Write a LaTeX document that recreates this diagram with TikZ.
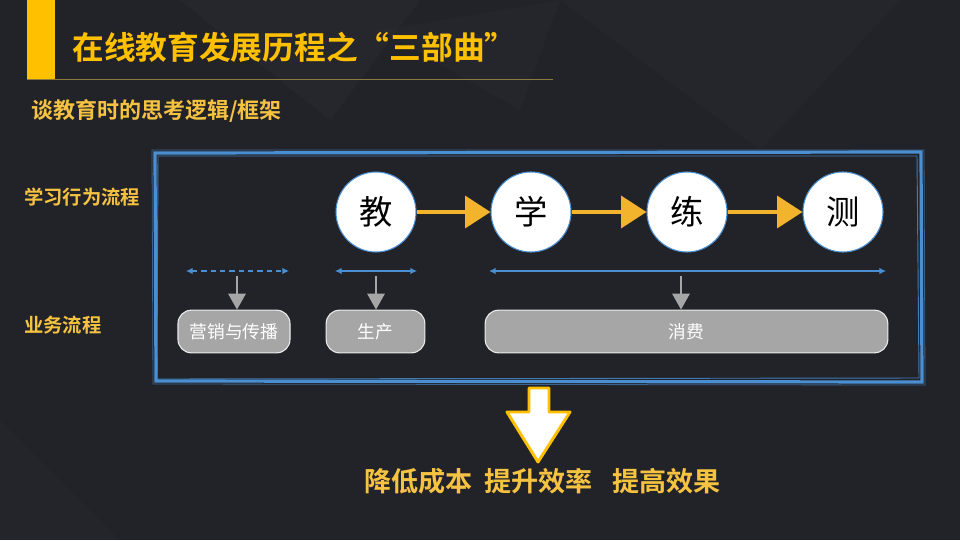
\documentclass[tikz,border=0pt]{standalone}
\usepackage{fontspec}
\newfontfamily\cjk{Noto Sans CJK SC}
\newfontfamily\cjkb{Noto Sans CJK SC Bold}
\usetikzlibrary{arrows.meta,shapes.geometric}
\definecolor{bg}{HTML}{222328}
\definecolor{bgl}{HTML}{2E3036}
\definecolor{gold}{HTML}{FFC000}
\definecolor{ytxt}{HTML}{F5C242}
\definecolor{yarr}{HTML}{F2B42C}
\definecolor{fblue}{HTML}{4A8FD2}
\definecolor{gbox}{HTML}{A6A6A6}
\definecolor{gline}{HTML}{8C7A3C}
\tikzset{
  x=0.75pt,y=-0.75pt,
  circ/.style={circle,draw=fblue,line width=0.8pt,fill=white,minimum size=60pt,inner sep=0pt,font=\cjk\fontsize{25}{25}\selectfont,text=black},
  gbx/.style={rounded corners=10pt,draw=white!85!gray,line width=0.8pt,fill=gbox,text=white,font=\cjk\fontsize{13.3}{13.3}\selectfont,minimum height=32pt},
  yarrow/.style={draw=yarr,line width=2.4pt,-{Triangle[length=19pt,width=24pt]}},
  barrow/.style={draw=fblue,line width=1.1pt,{Latex[length=5pt,width=5pt]}-{Latex[length=5pt,width=5pt]}},
  garrow/.style={draw=gbox,line width=1.6pt,-{Triangle[length=12pt,width=13pt]}},
  lbl/.style={text=ytxt,font=\cjkb\fontsize{14.5}{14.5}\selectfont,anchor=west}
}
\begin{document}
\begin{tikzpicture}
\useasboundingbox (0,0) rectangle (960,540);
\fill[bg] (0,0) rectangle (960,540);
% faint background polygons
\fill[bgl,opacity=0.35] (180,0) -- (420,0) -- (330,120) -- cycle;
\fill[bgl,opacity=0.3] (560,0) -- (900,0) -- (760,150) -- cycle;
\fill[bgl,opacity=0.25] (380,30) -- (560,0) -- (520,110) -- cycle;
\fill[bgl,opacity=0.2] (0,420) -- (120,540) -- (0,540) -- cycle;
% title
\fill[gold] (27,0) rectangle (55,80);
\draw[gline,line width=0.7pt] (27,79.5) -- (553,79.5);
\node[anchor=west,text=gold,font=\cjkb\fontsize{23.8}{23.8}\selectfont,inner sep=0pt] (title) at (72,47) {在线教育发展历程之“三部曲”};
\node[anchor=west,text=ytxt,font=\cjkb\fontsize{16.5}{16.5}\selectfont,inner sep=0pt] (sub) at (31,111) {谈教育时的思考逻辑/框架};
% left labels
\node[lbl,inner sep=0pt] (l1) at (24,197) {学习行为流程};
\node[lbl,inner sep=0pt] (l2) at (24,325) {业务流程};
% frame (sketchy)
\draw[fblue,line width=2.4pt] (155,153) -- (921,152) -- (922,382) -- (156,381) -- cycle;
\draw[fblue,line width=0.7pt,opacity=0.8] (158,156) -- (917,156) -- (919,378) -- (157,379) -- cycle;
\draw[fblue,line width=0.6pt,opacity=0.6] (152,150) -- (924,150) -- (925,385) -- (153,384) -- cycle;
% circles
\node[circ] (c1) at (376,212) {教};
\node[circ] (c2) at (531,212) {学};
\node[circ] (c3) at (687,212) {练};
\node[circ] (c4) at (843,212) {测};
\draw[yarrow] (c1.east) -- (c2.west);
\draw[yarrow] (c2.east) -- (c3.west);
\draw[yarrow] (c3.east) -- (c4.west);
% boxes
\node[gbx,minimum width=84pt] (b1) at (234,331.5) {营销与传播};
\node[gbx,minimum width=74pt] (b2) at (375.5,331.5) {生产};
\node[gbx,minimum width=302pt] (b3) at (686.5,331.5) {消费};
% blue ranges
\coordinate (r1a) at (186,271); \coordinate (r1b) at (289,271);
\coordinate (r2a) at (335,271); \coordinate (r2b) at (417,271);
\coordinate (r3a) at (489,271); \coordinate (r3b) at (886,271);
\draw[barrow,dash pattern=on 4pt off 3pt] (r1a) -- (r1b);
\draw[barrow] (r2a) -- (r2b);
\draw[barrow] (r3a) -- (r3b);
% gray arrows
\coordinate (g1) at (237,276); \coordinate (g2) at (376,276); \coordinate (g3) at (681,276);
\draw[garrow] (g1) -- (b1.north -| g1);
\draw[garrow] (g2) -- (b2.north -| g2);
\draw[garrow] (g3) -- (b3.north -| g3);
% big down arrow
\draw[gold,line width=2.2pt,fill=white,line join=round] (529,388) -- (549,388) -- (549,412) -- (570,412) -- (538,462) -- (507,412) -- (529,412) -- cycle;
\node[anchor=west,text=ytxt,font=\cjkb\fontsize{20.3}{20.3}\selectfont,inner sep=0pt] (res) at (364,481) {降低成本\hspace{9pt}提升效率\hspace{15pt}提高效果};
\end{tikzpicture}
\end{document}
